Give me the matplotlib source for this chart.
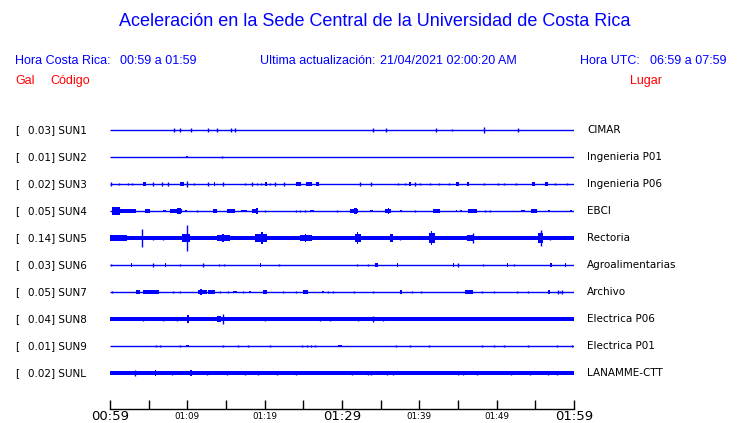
import matplotlib
matplotlib.use('Agg')
import matplotlib.pyplot as plt

# Station codes, peak acceleration (Gal) and site names
codes = ['SUN1', 'SUN2', 'SUN3', 'SUN4', 'SUN5', 'SUN6', 'SUN7', 'SUN8', 'SUN9', 'SUNL']
peaks = [0.03, 0.01, 0.02, 0.05, 0.14, 0.03, 0.05, 0.04, 0.01, 0.02]
places = ['CIMAR', 'Ingenieria P01', 'Ingenieria P06', 'EBCI', 'Rectoria',
          'Agroalimentarias', 'Archivo', 'Electrica P06', 'Electrica P01', 'LANAMME-CTT']

# Background noise half-amplitude of each trace (fraction of trace spacing)
noise = [0, 0, 0, 0, 0.075, 0, 0, 0.065, 0, 0.065]

# Events: (minute after 00:59, duration in minutes, half-amplitude)
ev_sun1 = [(8.3, 0, 0.07), (9.0, 0, 0.09), (10.5, 0, 0.06), (12.7, 0, 0.08), (13.9, 0, 0.07),
           (15.7, 0, 0.08), (16.1, 0, 0.08), (34.0, 0, 0.06), (35.7, 0, 0.06), (42.2, 0, 0.07),
           (44.2, 0, 0.05), (48.3, 0, 0.11), (52.8, 0, 0.06)]
ev_sun2 = [(9.8, 0.3, 0.05), (14.5, 0, 0.05)]
ev_sun3 = [(0.1, 0, 0.07), (1.1, 0, 0.05), (2.3, 0, 0.05), (2.9, 0, 0.05), (4.3, 0.4, 0.06),
           (5.6, 0, 0.07), (6.7, 0, 0.06), (7.5, 0, 0.06), (9.1, 0.5, 0.07), (9.9, 0, 0.11),
           (10.8, 0, 0.05), (12.7, 0, 0.06), (13.4, 0.2, 0.07), (14.6, 0, 0.07), (17.5, 0, 0.05),
           (18.3, 0, 0.06), (19.0, 0, 0.05), (19.5, 0, 0.05), (20.0, 0.3, 0.08), (20.7, 0, 0.05),
           (21.3, 0, 0.06), (22.5, 0, 0.06), (24.1, 0.6, 0.06), (25.3, 0.8, 0.07), (26.6, 0.4, 0.06),
           (32.3, 0, 0.06), (33.8, 0, 0.06), (37.3, 0, 0.05), (38.1, 0, 0.05), (38.6, 0.3, 0.06),
           (39.4, 0, 0.06), (40.1, 0, 0.05), (41.4, 0, 0.05), (42.5, 0, 0.05), (43.8, 0, 0.05),
           (44.8, 0.3, 0.07), (46.1, 0.3, 0.08), (48.3, 0, 0.05), (50.2, 0, 0.05), (50.9, 0, 0.05),
           (52.5, 0, 0.04), (54.6, 0.3, 0.06), (56.3, 0.4, 0.06), (57.5, 0, 0.05), (59.1, 0, 0.05)]
ev_sun4 = [(0.3, 1.0, 0.13), (1.3, 2.1, 0.07), (4.5, 0.7, 0.06), (6.9, 0.4, 0.05), (7.8, 1.5, 0.06),
           (8.7, 0.5, 0.10), (9.7, 0.2, 0.05), (11.2, 0, 0.05), (13.3, 0.5, 0.09), (15.1, 1.1, 0.07),
           (17.0, 0.7, 0.05), (18.3, 0.9, 0.07), (18.9, 0.3, 0.10), (20.0, 0, 0.05), (24.0, 0, 0.04),
           (24.6, 0, 0.04), (25.2, 0, 0.04), (25.8, 0.6, 0.05), (29.3, 0, 0.05), (31.0, 1.1, 0.07),
           (31.6, 0.3, 0.10), (33.6, 0.4, 0.05), (35.6, 0.8, 0.07), (35.9, 0.2, 0.12), (37.5, 0.2, 0.05),
           (39.4, 0, 0.05), (41.8, 0.9, 0.07), (44.7, 0.2, 0.05), (45.3, 0.2, 0.05), (46.3, 1.1, 0.06),
           (48.5, 0, 0.04), (49.1, 0, 0.04), (53.2, 0.5, 0.05), (54.5, 0.7, 0.08), (54.9, 0.1, 0.15),
           (56.7, 0.2, 0.05), (59.5, 0.2, 0.05)]
ev_sun5 = [(0.0, 2.2, 0.11), (2.8, 1.1, 0.09), (4.2, 0, 0.33), (5.6, 0, 0.09), (6.9, 0, 0.08),
           (9.3, 1.0, 0.14), (9.9, 0, 0.47), (11.2, 0.6, 0.08), (13.8, 1.7, 0.12), (14.5, 0.3, 0.16),
           (18.8, 1.5, 0.13), (19.5, 0.3, 0.21), (24.6, 1.5, 0.10), (25.2, 0.2, 0.13), (31.7, 0.8, 0.14),
           (31.9, 0.2, 0.22), (36.2, 0.4, 0.15), (37.5, 0, 0.09), (41.2, 0.8, 0.18), (41.5, 0.1, 0.27),
           (43.5, 0.5, 0.09), (46.1, 0.8, 0.12), (46.9, 0, 0.19), (50.0, 0.4, 0.09), (55.4, 0.6, 0.20),
           (55.7, 0, 0.31), (56.9, 0, 0.09)]
ev_sun6 = [(0.1, 0, 0.05), (2.7, 0.2, 0.06), (5.5, 0, 0.06), (7.1, 0.2, 0.06), (9.1, 0, 0.04),
           (12.0, 0, 0.09), (14.1, 0, 0.05), (14.7, 0, 0.05), (19.4, 0.1, 0.09), (21.9, 0, 0.05),
           (32.0, 0, 0.05), (33.4, 0, 0.05), (34.3, 0.3, 0.06), (37.1, 0.2, 0.06), (44.3, 0.2, 0.06),
           (45.0, 0, 0.06), (48.2, 0, 0.04), (51.3, 0.2, 0.06), (52.2, 0, 0.05), (56.9, 0.3, 0.06),
           (58.8, 0.2, 0.06)]
ev_sun7 = [(0.2, 0, 0.05), (3.4, 0.5, 0.06), (4.3, 2.0, 0.06), (8.2, 0, 0.05), (9.1, 0, 0.05),
           (11.4, 1.1, 0.08), (11.7, 0.2, 0.12), (12.7, 0.9, 0.06), (14.2, 0, 0.05), (15.3, 0, 0.05),
           (15.9, 0.5, 0.05), (17.2, 0, 0.05), (18.0, 0.2, 0.05), (19.8, 0.5, 0.06), (22.4, 0, 0.05),
           (24.1, 0, 0.05), (25.0, 0.6, 0.06), (27.4, 0.3, 0.05), (28.2, 0, 0.05), (28.8, 0, 0.04),
           (31.5, 0, 0.05), (34.0, 0, 0.04), (37.5, 0.3, 0.07), (39.0, 0, 0.04), (40.2, 0, 0.05),
           (45.9, 1.1, 0.07), (48.1, 0, 0.04), (49.6, 0, 0.05), (52.6, 0, 0.04), (54.1, 0, 0.04),
           (56.6, 0.3, 0.07), (57.9, 0, 0.06), (58.2, 0, 0.05), (58.4, 0, 0.06)]
ev_sun8 = [(4.3, 0, 0.08), (6.9, 0, 0.09), (8.6, 0, 0.09), (9.0, 0.2, 0.09), (9.9, 0.3, 0.13),
           (13.8, 0.6, 0.10), (14.6, 0, 0.17), (20.0, 0, 0.08), (27.2, 0, 0.08), (28.4, 0, 0.08),
           (32.1, 0, 0.08), (34.0, 0, 0.10), (35.3, 0, 0.08)]
ev_sun9 = [(5.9, 0, 0.04), (6.5, 0, 0.04), (9.1, 0, 0.04), (9.8, 0.4, 0.04), (14.6, 0, 0.05),
           (16.6, 0, 0.04), (17.9, 0, 0.04), (20.7, 0, 0.04), (24.8, 0, 0.04), (25.5, 0, 0.04),
           (26.0, 0, 0.04), (26.5, 0, 0.04), (29.5, 0.5, 0.04), (37.0, 0, 0.04), (38.8, 0, 0.04),
           (41.3, 0, 0.04), (48.1, 0, 0.04), (49.6, 0, 0.04), (50.9, 0, 0.04), (54.1, 0, 0.04),
           (57.8, 0, 0.04), (59.7, 0, 0.04)]
ev_sunl = [(0.2, 0.7, 0.09), (3.2, 0, 0.10), (5.8, 0.2, 0.10), (8.0, 0, 0.09), (10.3, 0.3, 0.10),
           (12.5, 0, 0.08), (15.1, 0, 0.09), (17.5, 0, 0.08), (19.2, 0, 0.08), (21.6, 0, 0.08),
           (24.1, 0, 0.09), (26.3, 0.4, 0.09), (28.4, 0.5, 0.09), (31.3, 0, 0.08), (33.4, 0, 0.08),
           (33.8, 0, 0.09), (35.8, 0, 0.08), (36.6, 0, 0.08), (38.5, 0.2, 0.09), (40.1, 0.2, 0.09),
           (42.5, 0.4, 0.09), (45.0, 0, 0.08), (45.7, 0, 0.08), (47.4, 0, 0.08), (50.2, 0.2, 0.09),
           (51.9, 0, 0.08), (54.3, 0, 0.08), (56.7, 0, 0.08), (57.8, 0, 0.08), (59.3, 0.2, 0.09)]
events = [ev_sun1, ev_sun2, ev_sun3, ev_sun4, ev_sun5, ev_sun6, ev_sun7, ev_sun8, ev_sun9, ev_sunl]

tick_minutes = list(range(0, 61, 5))
big_labels = {0: '00:59', 30: '01:29', 60: '01:59'}
small_labels = {10: '01:09', 20: '01:19', 40: '01:39', 50: '01:49'}

W, H = 740, 423
BLUE = '#0000ff'
fig = plt.figure(figsize=(W / 100, H / 100), dpi=100)


def fx(px):
    return px / W


def fy(py):
    return 1 - py / H


# Header
hdr = dict(family='Liberation Sans', va='center')
fig.text(fx(375), fy(22), 'Aceleración en la Sede Central de la Universidad de Costa Rica',
         ha='center', fontsize=13, color=BLUE, **hdr)
fig.text(fx(15), fy(61), 'Hora Costa Rica:', fontsize=9, color=BLUE, **hdr)
fig.text(fx(120), fy(61), '00:59 a 01:59', fontsize=9, color=BLUE, **hdr)
fig.text(fx(260), fy(61), 'Ultima actualización:', fontsize=9, color=BLUE, **hdr)
fig.text(fx(380), fy(61), '21/04/2021 02:00:20 AM', fontsize=9, color=BLUE, **hdr)
fig.text(fx(580), fy(61), 'Hora UTC:', fontsize=9, color=BLUE, **hdr)
fig.text(fx(650), fy(61), '06:59 a 07:59', fontsize=9, color=BLUE, **hdr)
fig.text(fx(15), fy(81), 'Gal', fontsize=9, color='red', **hdr)
fig.text(fx(50), fy(81), 'Código', fontsize=9, color='red', **hdr)
fig.text(fx(630), fy(81), 'Lugar', fontsize=9, color='red', **hdr)

# Trace panel: trace i sits at y = -i, spacing 27 px
ax = fig.add_axes([fx(110), fy(409), fx(574) - fx(110), (409 - 115) / H])
ax.set_xlim(0, 60)
ax.set_ylim(-(409 - 130) / 27, 15 / 27)

for i, (code, pk, place, nz, evs) in enumerate(zip(codes, peaks, places, noise, events)):
    y0 = -i
    ax.plot([0, 60], [y0, y0], color=BLUE, lw=1.0, solid_capstyle='butt')
    if nz > 0:
        ax.fill_between([0, 60], y0 - nz, y0 + nz, color=BLUE, lw=0)
    for t, dur, amp in evs:
        if dur > 0:
            ax.fill_between([t, t + dur], y0 - amp, y0 + amp, color=BLUE, lw=0)
        else:
            ax.vlines(t, y0 - amp, y0 + amp, color=BLUE, lw=1.0)
    # labels left and right of the trace
    ax.annotate('[', xy=(0, y0), xycoords='data', xytext=(fx(15), y0),
                textcoords=('figure fraction', 'data'), va='center', fontsize=7.5)
    ax.annotate(f'{pk:.2f}] {code}', xy=(0, y0), xycoords='data', xytext=(fx(27.5), y0),
                textcoords=('figure fraction', 'data'), va='center', fontsize=7.5)
    ax.annotate(place, xy=(60, y0), xycoords='data', xytext=(fx(587), y0),
                textcoords=('figure fraction', 'data'), va='center', fontsize=7.5)

for s in ['top', 'left', 'right']:
    ax.spines[s].set_visible(False)
ax.spines['bottom'].set_linewidth(1.0)
ax.set_yticks([])
ax.set_xticks(tick_minutes)
ax.tick_params(axis='x', direction='in', length=6.5, width=1.0, labelbottom=False)

for m, lab in big_labels.items():
    ax.annotate(lab, xy=(m, 0), xycoords=('data', 'axes fraction'), xytext=(0, -5.5),
                textcoords='offset points', ha='center', va='center', fontsize=9.5)
for m, lab in small_labels.items():
    ax.annotate(lab, xy=(m, 0), xycoords=('data', 'axes fraction'), xytext=(0, -5.5),
                textcoords='offset points', ha='center', va='center', fontsize=6.3)

fig.savefig('out.png', dpi=100)
